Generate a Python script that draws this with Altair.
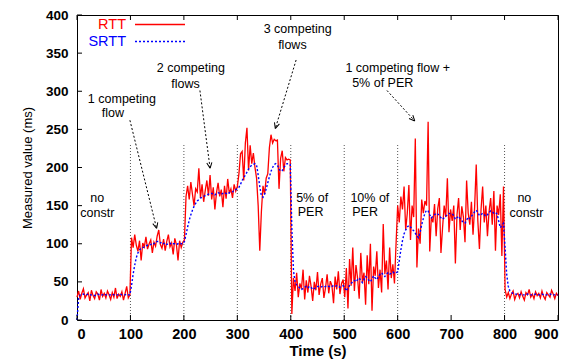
import math
import altair as alt
import pandas as pd

# ---------------- data (3 s sampling) ----------------
STEP = 3  # seconds between samples

rtt_no_constr_1 = [30, 38, 27, 35, 41, 29, 33, 36, 25, 39,
                   32, 28, 37, 34, 26, 40, 31, 35, 29, 38,
                   33, 27, 36, 30, 42, 28, 34, 31, 37, 26,
                   35, 44, 29, 33]
rtt_1flow = [108, 95, 112, 98, 90, 104, 78, 101, 96, 109,
             93, 100, 105, 88, 102, 97, 110, 118, 99, 94,
             106, 91, 103, 112, 96, 101, 86, 107, 99, 78,
             104, 95, 102]
rtt_2flows = [105, 162, 176, 158, 181, 165, 150, 172, 168, 199,
              160, 178, 155, 170, 183, 163, 190, 158, 174, 145,
              167, 180, 162, 171, 148, 176, 159, 185, 166, 172,
              160, 178, 169]
rtt_3flows = [175, 192, 218, 221, 183, 232, 252, 196, 229, 205,
              219, 200, 186, 150, 91, 142, 176, 165, 186, 192,
              226, 243, 232, 237, 235, 236, 172, 212, 222, 195,
              213, 210, 211, 210]
rtt_per5 = [8, 55, 38, 62, 30, 48, 41, 66, 27, 52,
            36, 58, 44, 25, 50, 39, 63, 33, 47, 55,
            29, 42, 60, 35, 51, 45, 22, 57, 40, 64,
            34, 48, 53]
rtt_per10 = [30, 68, 15, 80, 45, 95, 38, 72, 55, 28,
             88, 50, 62, 20, 85, 47, 100, 12, 70, 58,
             90, 42, 66, 36, 126, 60, 78, 40, 95, 55,
             73, 48, 100]
rtt_flow_per_a = [150, 128, 162, 145, 175, 118, 140, 177, 105, 150,
                  135, 238, 69, 120, 100, 158, 140, 156, 150, 260,
                  90, 135, 128, 152, 110, 146, 160, 88, 121, 150,
                  135, 186, 115, 145]
rtt_flow_per_b = [130, 150, 74, 138, 160, 118, 149, 135, 102, 183,
                  140, 125, 155, 112, 148, 204, 130, 93, 145, 175,
                  128, 150, 110, 142, 160, 125, 169, 91, 150, 138,
                  165, 84, 175]
rtt_no_constr_2 = [40, 30, 36, 28, 34, 38, 27, 33, 35, 29,
                   37, 31, 26, 36, 33, 40, 30, 34, 28, 37,
                   32, 35, 29, 38, 31, 27, 36, 33, 30, 39,
                   34, 28, 35, 32]

srtt_no_constr_1 = [0, 28, 33, 33, 34, 33, 33, 34, 33, 33,
                    33, 32, 33, 34, 33, 33, 33, 34, 33, 33,
                    33, 33, 34, 33, 33, 33, 33, 34, 33, 33,
                    33, 34, 33, 33]
srtt_1flow = [45, 60, 72, 82, 88, 92, 94, 95, 96, 97,
              98, 98, 99, 101, 100, 102, 103, 103, 101, 102,
              100, 101, 99, 100, 101, 99, 100, 100, 99, 100,
              101, 100, 100]
srtt_2flows = [103, 112, 122, 131, 138, 144, 149, 153, 156, 158,
               160, 161, 162, 163, 164, 165, 166, 166, 165, 164,
               166, 167, 166, 165, 166, 167, 166, 165, 167, 168,
               168, 170, 171]
srtt_3flows = [172, 174, 178, 183, 187, 190, 194, 198, 201, 203,
               204, 205, 203, 190, 175, 163, 161, 165, 172, 180,
               188, 195, 200, 204, 205, 203, 198, 195, 196, 200,
               203, 205, 205, 204]
srtt_per5 = [120, 65, 50, 46, 44, 42, 40, 41, 43, 44,
             42, 44, 43, 40, 41, 43, 44, 44, 43, 44,
             43, 44, 45, 44, 43, 44, 45, 44, 45, 44,
             43, 44, 45]
srtt_per10 = [43, 38, 42, 45, 48, 50, 52, 50, 53, 55,
              52, 49, 53, 57, 55, 52, 50, 54, 58, 55,
              53, 57, 60, 62, 59, 57, 60, 62, 60, 61,
              63, 61, 62]
srtt_flow_per_a = [63, 78, 92, 104, 113, 118, 122, 124, 122, 119,
                   117, 114, 110, 108, 115, 125, 133, 140, 144, 143,
                   138, 134, 136, 138, 140, 139, 137, 134, 132, 134,
                   136, 138, 140, 139]
srtt_flow_per_b = [139, 137, 132, 134, 136, 133, 130, 128, 127, 131,
                   135, 133, 136, 139, 142, 144, 141, 137, 138, 140,
                   138, 136, 138, 141, 143, 142, 140, 141, 139, 130,
                   121, 124, 127]
srtt_no_constr_2 = [95, 60, 44, 38, 36, 35, 34, 34, 33, 33,
                    34, 33, 33, 33, 34, 33, 33, 33, 33, 34,
                    33, 33, 33, 34, 33, 33, 33, 33, 34, 33,
                    33, 33, 33, 33]

rtt = (rtt_no_constr_1 + rtt_1flow + rtt_2flows + rtt_3flows + rtt_per5
       + rtt_per10 + rtt_flow_per_a + rtt_flow_per_b + rtt_no_constr_2)
srtt = (srtt_no_constr_1 + srtt_1flow + srtt_2flows + srtt_3flows + srtt_per5
        + srtt_per10 + srtt_flow_per_a + srtt_flow_per_b + srtt_no_constr_2)
time = [i * STEP for i in range(len(rtt))]

separator_times = [100, 200, 300, 400, 500, 600, 800]
separator_top = 231

x_ticks = list(range(0, 901, 100))
y_ticks = list(range(0, 401, 50))

# annotation text rows: text, time, value
label_text = ["no", "constr", "1 competing", "flow", "2 competing", "flows",
              "3 competing", "flows", "1 competing flow +", "5% of PER",
              "5% of", "PER", "10% of", "PER", "no", "constr"]
label_t = [38, 38, 84, 67, 213, 203, 413, 403, 600, 572,
           440, 437, 548, 539, 837, 841]
label_v = [160, 140, 290, 272, 330, 310, 381, 361, 330, 311,
           160, 141, 160, 141, 160, 140]

# arrows: start (time, value) -> tip (time, value)
arrow_t1 = [99, 230, 410, 580]
arrow_v1 = [262, 301, 341, 301]
arrow_t2 = [149, 249, 371, 632]
arrow_v2 = [120, 199, 251, 261]

# ---------------- chart ----------------
W, H = 481, 305
XMAX, YMAX = 900, 400

xscale = alt.Scale(domain=[0, XMAX], nice=False, zero=False)
yscale = alt.Scale(domain=[0, YMAX], nice=False, zero=False)
xaxis = alt.Axis(values=x_ticks, title="Time (s)", labelPadding=7, titlePadding=3,
                 labelFont="Liberation Sans", labelFontSize=14.5, labelFontWeight="bold",
                 titleFont="Liberation Sans", titleFontSize=15, titleFontWeight="bold",
                 labelColor="black", titleColor="black")
yaxis = alt.Axis(values=y_ticks, title="Measured value (ms)", labelPadding=9, titlePadding=11,
                 labelFont="Liberation Sans", labelFontSize=13.5, labelFontWeight="bold",
                 titleFont="Liberation Sans", titleFontSize=13, titleFontWeight="normal",
                 labelColor="black", titleColor="black")


def X(field):
    return alt.X(field, type="quantitative", scale=xscale, axis=xaxis, title="Time (s)")


def Y(field):
    return alt.Y(field, type="quantitative", scale=yscale, axis=yaxis, title="Measured value (ms)")


series = pd.DataFrame({"t": time, "rtt": rtt, "srtt": srtt})

rtt_line = alt.Chart(series).mark_line(color="#ff0000", strokeWidth=1.3, interpolate="linear").encode(
    x=X("t"), y=Y("rtt"))
srtt_line = alt.Chart(series).mark_line(color="#0000ff", strokeWidth=1.4, strokeDash=[2, 2]).encode(
    x=X("t"), y=Y("srtt"))

sep_df = pd.DataFrame({"t": separator_times, "v0": [0] * len(separator_times),
                       "v1": [separator_top] * len(separator_times)})
separators = alt.Chart(sep_df).mark_rule(color="#555555", strokeWidth=1, strokeDash=[1, 2]).encode(
    x=X("t"), y=Y("v0"), y2="v1")

lab_df = pd.DataFrame({"text": label_text, "t": label_t, "v": label_v})
labels = alt.Chart(lab_df).mark_text(font="Liberation Sans", fontSize=12.5, color="black",
                                     align="center", baseline="middle").encode(
    x=X("t"), y=Y("v"), text="text:N")

# arrowhead angles from the arrow directions in screen space
ang = []
for a, b, c, d in zip(arrow_t1, arrow_v1, arrow_t2, arrow_v2):
    dx = (c - a) * W / XMAX
    dy = -(d - b) * H / YMAX
    ang.append(math.degrees(math.atan2(dx, -dy)) % 360)
arr_df = pd.DataFrame({"t": arrow_t1, "v": arrow_v1, "t2": arrow_t2, "v2": arrow_v2, "ang": ang})
arrow_lines = alt.Chart(arr_df).mark_rule(color="black", strokeWidth=1, strokeDash=[2, 2]).encode(
    x=X("t"), y=Y("v"), x2="t2", y2="v2")
arrow_heads = alt.Chart(arr_df).mark_point(shape="M0,0L-0.45,1M0,0L0.45,1", size=130, filled=False,
                                           color="black", strokeWidth=1, opacity=1).encode(
    x=X("t2"), y=Y("v2"), angle=alt.Angle("ang:Q", scale=None))

# inward ticks (gnuplot style) on bottom, top and left
xt_df = pd.DataFrame({"t": x_ticks})
yt_df = pd.DataFrame({"v": y_ticks})
bottom_ticks = alt.Chart(xt_df).mark_rule(color="black", strokeWidth=1).encode(
    x=X("t"), y=alt.value(H), y2=alt.value(H - 5))
top_ticks = alt.Chart(xt_df).mark_rule(color="black", strokeWidth=1).encode(
    x=X("t"), y=alt.value(0), y2=alt.value(5))
left_ticks = alt.Chart(yt_df).mark_rule(color="black", strokeWidth=1).encode(
    y=Y("v"), x=alt.value(0), x2=alt.value(5))

# key (gnuplot style: label then line sample)
key_rtt_text = alt.Chart(pd.DataFrame({"k": ["RTT"]})).mark_text(
    font="Liberation Sans", fontSize=14.5, color="#ff0000", align="right", baseline="middle").encode(
    x=alt.value(49), y=alt.value(9.5), text="k:N")
key_srtt_text = alt.Chart(pd.DataFrame({"k": ["SRTT"]})).mark_text(
    font="Liberation Sans", fontSize=14.5, color="#0000ff", align="right", baseline="middle").encode(
    x=alt.value(49), y=alt.value(26.5), text="k:N")
key_rtt_line = alt.Chart(pd.DataFrame({"k": ["RTT"]})).mark_rule(color="#ff0000", strokeWidth=1.3).encode(
    x=alt.value(58), x2=alt.value(108), y=alt.value(9.5))
key_srtt_line = alt.Chart(pd.DataFrame({"k": ["SRTT"]})).mark_rule(
    color="#0000ff", strokeWidth=1.4, strokeDash=[2, 2]).encode(
    x=alt.value(58), x2=alt.value(108), y=alt.value(26.5))

chart = alt.layer(
    separators, rtt_line, srtt_line, arrow_lines, arrow_heads, labels,
    bottom_ticks, top_ticks, left_ticks,
    key_rtt_text, key_srtt_text, key_rtt_line, key_srtt_line,
).properties(
    width=W, height=H,
    padding={"left": 69, "top": 7, "right": 14, "bottom": 46},
    autosize=alt.AutoSizeParams(type="none"),
    background="white",
).configure_view(
    stroke="black", strokeWidth=1
).configure_axis(
    grid=False, domain=False, ticks=False
)

chart.save("out.html", embed_options={"renderer": "svg", "actions": False})
